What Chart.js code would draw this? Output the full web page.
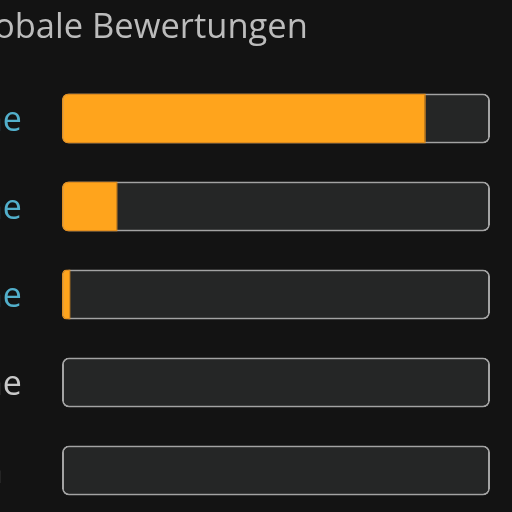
<!DOCTYPE html>
<html>
<head>
<meta charset="utf-8">
<script src="https://cdn.jsdelivr.net/npm/chart.js@4/dist/chart.umd.min.js"></script>
<style>
  html, body { margin: 0; padding: 0; width: 512px; height: 512px; overflow: hidden; background: #131313; }
  #wrap { position: absolute; top: 0; }
</style>
</head>
<body>
<div id="wrap"><canvas id="c"></canvas></div>
<script>
// ---- data ----
const titleText = "globale Bewertungen";
const categories = ["5 Sterne", "4 Sterne", "3 Sterne", "2 Sterne", "1 Stern"];
const percentValues = [85, 13, 2, 0, 0];
const trackMax = [100, 100, 100, 100, 100];
const labelColors = ["#52afcb", "#52afcb", "#52afcb", "#c8c8c8", "#c8c8c8"];

const LABEL_FONT = { family: "'Open Sans'", size: 34, weight: '400' };
const TITLE_FONT = "400 34.5px 'Open Sans'";

function start() {
  const m = document.createElement('canvas').getContext('2d');
  m.font = LABEL_FONT.weight + ' ' + LABEL_FONT.size + 'px ' + LABEL_FONT.family;
  const labelW = m.measureText(categories[0]).width;
  const L = Math.round(labelW - 21.5);      // canvas starts left of the viewport
  const W = L + 512, H = 560;
  const cv = document.getElementById('c');
  cv.width = W; cv.height = H;
  cv.style.width = W + 'px'; cv.style.height = H + 'px';
  document.getElementById('wrap').style.left = (-L) + 'px';

  const titlePlugin = {
    id: 'cutTitle',
    afterDraw(chart) {
      const ctx = chart.ctx;
      ctx.save();
      ctx.font = TITLE_FONT;
      ctx.fillStyle = '#bcbcbc';
      ctx.textAlign = 'left';
      ctx.textBaseline = 'alphabetic';
      const pre = ctx.measureText(titleText.slice(0, 2)).width;
      ctx.fillText(titleText, L - 6 - pre, 38);
      ctx.restore();
    }
  };
  const bgPlugin = {
    id: 'bg',
    beforeDraw(chart) {
      const ctx = chart.ctx;
      ctx.save();
      ctx.fillStyle = '#131313';
      ctx.fillRect(0, 0, chart.width, chart.height);
      ctx.restore();
    }
  };

  new Chart(cv, {
    type: 'bar',
    data: {
      labels: categories,
      datasets: [
        {
          label: 'Anteil',
          data: percentValues,
          backgroundColor: '#ffa41c',
          borderColor: '#e08d1e',
          borderWidth: 1.5,
          borderSkipped: false,
          borderRadius: { topLeft: 6, bottomLeft: 6, topRight: 0, bottomRight: 0 },
          barThickness: 50,
          grouped: false,
          inflateAmount: 0,
          order: 0
        },
        {
          label: 'Maximum',
          data: trackMax,
          backgroundColor: '#252626',
          borderColor: '#a3a3a3',
          borderWidth: 2,
          borderSkipped: false,
          borderRadius: 7,
          barThickness: 50,
          grouped: false,
          inflateAmount: 0,
          order: 1
        }
      ]
    },
    options: {
      indexAxis: 'y',
      responsive: false,
      animation: false,
      devicePixelRatio: 1,
      layout: { padding: { top: 74.5, bottom: H - 514.5, left: 0, right: 22 } },
      plugins: {
        legend: { display: false },
        tooltip: { enabled: false },
        title: { display: false }
      },
      scales: {
        x: { display: false, min: 0, max: 100 },
        y: {
          grid: { display: false },
          border: { display: false },
          afterFit(scale) { scale.width = 62 + L; },
          ticks: {
            crossAlign: 'far',
            color: labelColors,
            font: LABEL_FONT,
            labelOffset: 3
          }
        }
      }
    },
    plugins: [bgPlugin, titlePlugin]
  });
}

if (document.fonts && document.fonts.load) {
  Promise.all([
    document.fonts.load("400 34px 'Open Sans'")
  ]).then(start, start);
} else {
  start();
}
</script>
</body>
</html>
